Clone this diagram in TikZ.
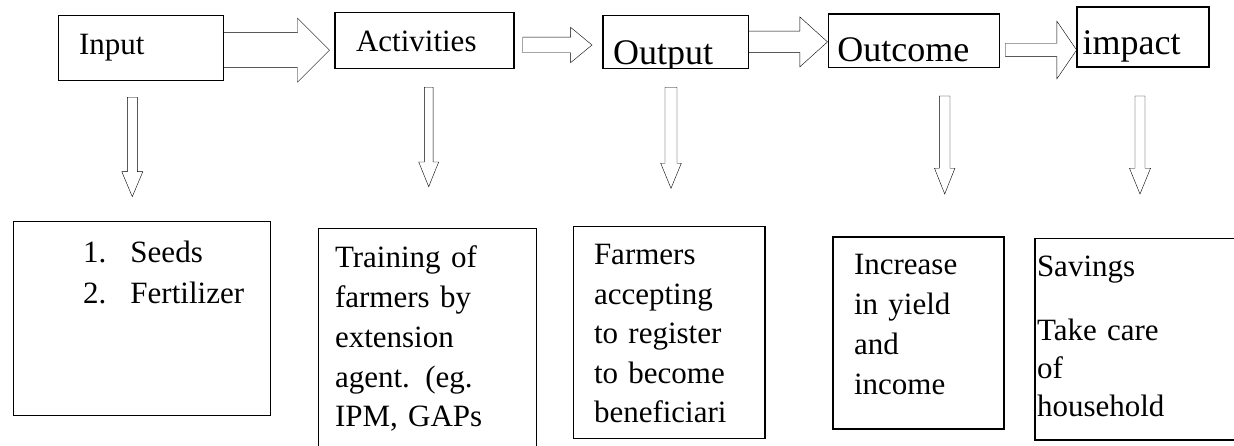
\documentclass[tikz,border=0pt]{standalone}
\usepackage{fontspec}
\setmainfont{Liberation Serif}
\usetikzlibrary{calc}
\tikzset{
  box/.style={draw, line width=1.3pt, inner sep=0pt, outer sep=0pt, anchor=north west},
  txt/.style={inner sep=0pt, outer sep=0pt, anchor=base west, font=\fontsize{31}{40}\selectfont},
  bigtxt/.style={txt, font=\fontsize{36}{44}\selectfont},
  mtxt/.style={txt, text width=#1, align=left},
  harrow/.style n args={3}{line width=1.3pt, to path={let \p1=(\tikztostart), \p2=(\tikztotarget) in
    (\x1,\y1+#1) -- (\x2-#3,\y1+#1) -- (\x2-#3,\y1+#2) -- (\x2,\y1) -- (\x2-#3,\y1-#2) -- (\x2-#3,\y1-#1) -- (\x1,\y1-#1) -- cycle}},
  darrow/.style n args={3}{line width=1.3pt, to path={let \p1=(\tikztostart), \p2=(\tikztotarget) in
    (\x1-#1,\y1) -- (\x1-#1,\y2+#3) -- (\x1-#2,\y2+#3) -- (\x1,\y2) -- (\x1+#2,\y2+#3) -- (\x1+#1,\y2+#3) -- (\x1+#1,\y1) -- cycle}}
}
\begin{document}
\begin{tikzpicture}[x=1pt, y=-1pt]
\useasboundingbox (0,0) rectangle (1234,446);
\fill[white] (0,0) rectangle (1234,446);
\clip (0,0) rectangle (1234,446);

% top row boxes
\node[box, minimum width=165pt, minimum height=65pt] (input) at (58.5,15.7) {};
\node[box, minimum width=179pt, minimum height=56pt] (act) at (335,12.3) {};
\node[box, minimum width=145.4pt, minimum height=52.8pt] (output) at (603,15.5) {};
\node[box, minimum width=170.8pt, minimum height=53.7pt] (outcome) at (828.7,14) {};
\node[box, line width=2.2pt, minimum width=132.4pt, minimum height=59.4pt] (impact) at (1076.6,7.3) {};

\node[txt] (tinput) at (79,55) {Input};
\node[txt] (tact) at (356,51.7) {Activities};
\begin{scope}
  \clip (output.south west) rectangle (output.north east);
  \node[bigtxt] (toutput) at (613,65) {Output};
\end{scope}
\node[bigtxt] (toutcome) at (837.4,61.7) {Outcome};
\node[bigtxt] (timpact) at (1082.6,55) {impact};

% bottom row boxes
\node[box, minimum width=257pt, minimum height=194pt] (seeds) at (13.8,221.7) {};
\node[box, minimum width=218.3pt, minimum height=240pt] (training) at (318.3,228.3) {};
\node[box, minimum width=191.7pt, minimum height=212pt] (farmers) at (573.3,226.3) {};
\node[box, line width=1.7pt, minimum width=171.6pt, minimum height=192.6pt] (increase) at (832.7,236.7) {};
\node[box, minimum width=250pt, minimum height=201.7pt] (savings) at (1035,238.3) {};

\node[mtxt=200pt, font=\fontsize{31}{41}\selectfont] (tseeds) at (83,263)
  {\makebox[47.5pt][l]{1.}Seeds\\\makebox[47.5pt][l]{2.}Fertilizer};
\node[mtxt=200pt, font=\fontsize{31}{39.7}\selectfont] (ttraining) at (335,268)
  {Training of\\farmers by\\extension\\agent. (eg.\\IPM, GAPs};
\node[mtxt=180pt, font=\fontsize{31}{39.5}\selectfont] (tfarmers) at (594,265)
  {Farmers\\accepting\\to register\\to become\\beneficiari};
\node[mtxt=150pt, font=\fontsize{31}{40}\selectfont] (tincrease) at (854,275)
  {Increase\\in yield\\and\\income};
\node[txt] (tsavings) at (1037,277) {Savings};
\node[mtxt=190pt, font=\fontsize{31}{38.5}\selectfont] (tcare) at (1037,340)
  {Take care\\of\\household};

% horizontal block arrows
\draw ([yshift=-2pt]input.east) to[harrow={17.5pt}{32pt}{32pt}] ([xshift=-5.5pt]act.west);
\draw ([xshift=8.7pt,yshift=-4.7pt]act.east) to[harrow={7.8pt}{17.7pt}{21.4pt}] ([xshift=-11pt]output.west);
\draw (output.east) to[harrow={10.8pt}{25pt}{27.7pt}] ([xshift=-1.2pt]outcome.west);
\draw ([xshift=6pt,yshift=-9.15pt]outcome.east) to[harrow={6.7pt}{28.8pt}{19.7pt}] (impact.west);

% vertical block arrows
\draw ([xshift=-8.7pt,yshift=-16.6pt]input.south) to[darrow={5pt}{10.5pt}{25pt}] ([yshift=25pt]seeds.north);
\draw ([xshift=4.2pt,yshift=-19pt]act.south) to[darrow={4.4pt}{10pt}{24.7pt}] ([yshift=41.6pt]training.north);
\draw ([xshift=-4.7pt,yshift=-19pt]output.south) to[darrow={6pt}{10.3pt}{25pt}] ([yshift=38pt]farmers.north);
\draw ([xshift=30.6pt,yshift=-28.3pt]outcome.south) to[darrow={5.3pt}{10.2pt}{25.7pt}] ([yshift=42.7pt]increase.north);
\draw ([xshift=-2.8pt,yshift=-29.3pt]impact.south) to[darrow={5pt}{10.5pt}{25.7pt}] ([yshift=44.3pt]savings.north);
\end{tikzpicture}
\end{document}
